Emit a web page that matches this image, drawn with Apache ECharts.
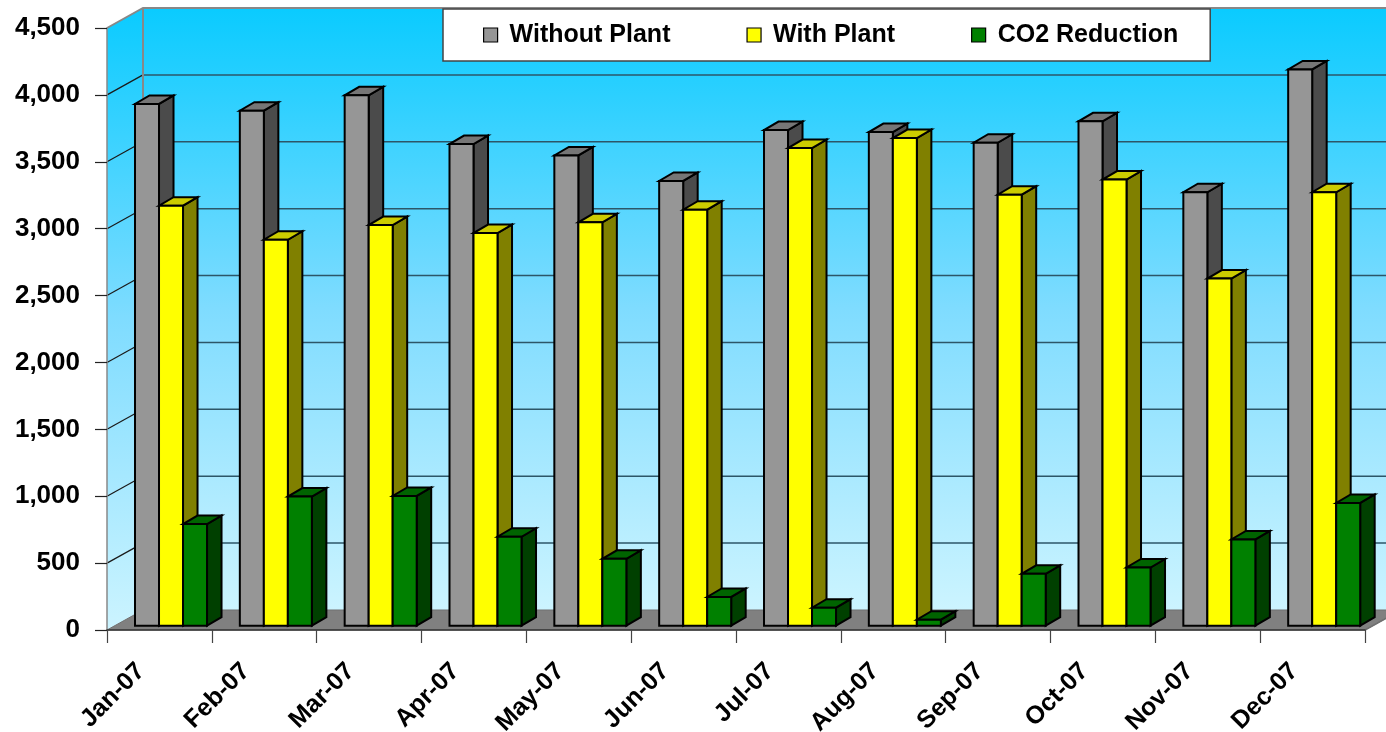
<!DOCTYPE html>
<html>
<head>
<meta charset="utf-8">
<script src="https://cdn.jsdelivr.net/npm/echarts@6/dist/echarts.min.js"></script>
<style>
  html, body { margin: 0; padding: 0; background: #fff; }
  #chart { width: 1386px; height: 732px; }
</style>
</head>
<body>
<div id="chart"></div>
<script>
// Monthly emissions, 2007
const months = ['Jan-07', 'Feb-07', 'Mar-07', 'Apr-07', 'May-07', 'Jun-07',
                'Jul-07', 'Aug-07', 'Sep-07', 'Oct-07', 'Nov-07', 'Dec-07'];
const withoutPlant = [3900, 3850, 3965, 3600, 3515, 3325, 3705, 3690, 3610, 3770, 3240, 4158];
const withPlant    = [3140, 2885, 2995, 2935, 3015, 3110, 3570, 3645, 3222, 3335, 2595, 3240];
const co2Reduction = [760, 965, 970, 665, 500, 215, 135, 45, 388, 435, 645, 918];
const seriesNames  = ['Without Plant', 'With Plant', 'CO2 Reduction'];

// value axis
const yMax = 4500;
const yStep = 500;

const FONT = '"Liberation Sans", Arial, Helvetica, sans-serif';

// 3D look: wall depth, bar depth and where the bar row sits inside the floor
const DEPTH_X = 36, DEPTH_Y = -20;
const BAR_DX = 14.5, BAR_DY = -8.5;
const ROW_X = 11.6, ROW_Y = -4.3;

const faces = [
  { front: '#969696', side: '#4b4b4b', top: '#767676' },
  { front: '#ffff00', side: '#808000', top: '#cccc00' },
  { front: '#008000', side: '#004000', top: '#006400' }
];

const outline = { stroke: '#000', lineWidth: 2, lineJoin: 'miter' };

function barRenderer(k) {
  return function (params, api) {
    const ci = api.value(0);
    const v = api.value(1);
    const base = api.coord([ci, 0]);
    const tip = api.coord([ci, v]);
    const cw = api.size([1, 0])[0];
    const bw = cw * 0.229;
    const x0 = base[0] - 1.5 * bw + k * bw + ROW_X;
    const x1 = x0 + bw;
    const yb = base[1] + ROW_Y;
    const yt = tip[1] + ROW_Y;
    const f = faces[k];
    return {
      type: 'group',
      children: [
        { type: 'polygon',
          shape: { points: [[x1, yb], [x1 + BAR_DX, yb + BAR_DY], [x1 + BAR_DX, yt + BAR_DY], [x1, yt]] },
          style: Object.assign({ fill: f.side }, outline) },
        { type: 'polygon',
          shape: { points: [[x0, yt], [x1, yt], [x1 + BAR_DX, yt + BAR_DY], [x0 + BAR_DX, yt + BAR_DY]] },
          style: Object.assign({ fill: f.top }, outline) },
        { type: 'rect',
          shape: { x: x0, y: yt, width: bw, height: yb - yt },
          style: Object.assign({ fill: f.front }, outline) }
      ]
    };
  };
}

// back wall, side wall, floor and their gridlines
function roomRenderer(params, api) {
  const cs = params.coordSys;
  const gx = cs.x, gy = cs.y, gw = cs.width, gh = cs.height;
  const wallFill = new echarts.graphic.LinearGradient(0, 0, 0, 1, [
    { offset: 0, color: '#0acbff' },
    { offset: 0.5, color: '#7fdcff' },
    { offset: 1, color: '#ccf4ff' }
  ]);
  const children = [
    { type: 'polygon',
      shape: { points: [[gx, gy], [gx + DEPTH_X, gy + DEPTH_Y], [gx + DEPTH_X, gy + gh + DEPTH_Y], [gx, gy + gh]] },
      style: { fill: wallFill } },
    { type: 'rect',
      shape: { x: gx + DEPTH_X, y: gy + DEPTH_Y, width: gw, height: gh },
      style: { fill: wallFill } },
    { type: 'polygon',
      shape: { points: [[gx, gy + gh], [gx + gw, gy + gh], [gx + gw + DEPTH_X, gy + gh + DEPTH_Y], [gx + DEPTH_X, gy + gh + DEPTH_Y]] },
      style: { fill: '#808080', stroke: '#707070', lineWidth: 1 } }
  ];
  for (let v = yStep; v < yMax; v += yStep) {
    const y = api.coord([0, v])[1];
    children.push({ type: 'line',
      shape: { x1: gx + DEPTH_X, y1: y + DEPTH_Y, x2: gx + gw + DEPTH_X, y2: y + DEPTH_Y },
      style: { stroke: '#2c5668', lineWidth: 1.5 } });
    children.push({ type: 'line',
      shape: { x1: gx, y1: y, x2: gx + DEPTH_X, y2: y + DEPTH_Y },
      style: { stroke: '#1a1a1a', lineWidth: 1.2 } });
  }
  children.push({ type: 'polyline',
    shape: { points: [[gx, gy], [gx + DEPTH_X, gy + DEPTH_Y], [gx + gw + DEPTH_X, gy + DEPTH_Y]] },
    style: { stroke: '#888', lineWidth: 2, fill: null } });
  children.push({ type: 'line',
    shape: { x1: gx + DEPTH_X, y1: gy + DEPTH_Y, x2: gx + DEPTH_X, y2: gy + gh + DEPTH_Y },
    style: { stroke: '#888', lineWidth: 2 } });
  children.push({ type: 'line',
    shape: { x1: gx + gw, y1: gy + gh, x2: gx + gw + DEPTH_X, y2: gy + gh + DEPTH_Y },
    style: { stroke: '#707070', lineWidth: 1.5 } });
  return { type: 'group', children: children };
}

const valueSets = [withoutPlant, withPlant, co2Reduction];

const chart = echarts.init(document.getElementById('chart'), null, { renderer: 'canvas' });

chart.setOption({
  animation: false,
  backgroundColor: '#ffffff',
  grid: { left: 107, right: 21, top: 28, bottom: 102, outerBoundsMode: 'none', containLabel: false },
  legend: {
    data: seriesNames,
    left: 443, top: 9,
    orient: 'horizontal',
    icon: 'rect',
    itemWidth: 14, itemHeight: 14, itemGap: 76,
    padding: [12, 32, 12, 40],
    backgroundColor: '#ffffff',
    borderColor: '#444444',
    borderWidth: 1.5,
    itemStyle: { borderColor: '#000', borderWidth: 1.2 },
    textStyle: { fontFamily: FONT, fontSize: 25, fontWeight: 'bold', color: '#000',
                 lineHeight: 28, padding: [0, 0, 0, 7] }
  },
  xAxis: {
    type: 'category',
    data: months,
    z: 5,
    axisLine: { show: true, lineStyle: { color: '#333', width: 1.5 } },
    axisTick: { show: true, length: 13, lineStyle: { color: '#444', width: 1.2 } },
    axisLabel: { interval: 0, rotate: 45, margin: 19, padding: [0, 26, 0, 0],
                 fontFamily: FONT, fontSize: 25, fontWeight: 'bold', color: '#000' },
    splitLine: { show: false }
  },
  yAxis: {
    type: 'value',
    min: 0, max: yMax, interval: yStep,
    z: 5,
    axisLine: { show: true, lineStyle: { color: '#888', width: 1.5 } },
    axisTick: { show: true, length: 12, lineStyle: { color: '#222', width: 1.2 } },
    axisLabel: { margin: 27, fontFamily: FONT, fontSize: 26, fontWeight: 'bold', color: '#000',
                 formatter: v => v.toLocaleString('en-US') },
    splitLine: { show: false }
  },
  series: [
    { type: 'custom', name: '_room', z: 1, silent: true,
      renderItem: roomRenderer, data: [[0, 0]], encode: { x: 0, y: 1 } }
  ].concat(seriesNames.map((name, k) => ({
    type: 'custom',
    name: name,
    z: 2 + k,
    itemStyle: { color: faces[k].front },
    renderItem: barRenderer(k),
    encode: { x: 0, y: 1 },
    data: valueSets[k].map((v, i) => [i, v])
  })))
});
</script>
</body>
</html>
